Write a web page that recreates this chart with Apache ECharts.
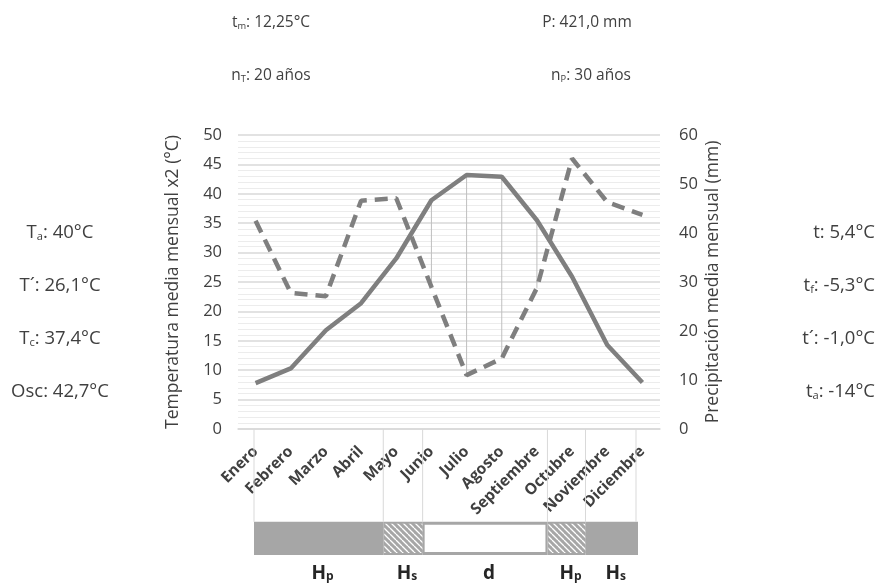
<!DOCTYPE html>
<html><head><meta charset="utf-8">
<script src="https://cdn.jsdelivr.net/npm/echarts@6/dist/echarts.min.js"></script>
<style>html,body{margin:0;padding:0;background:#fff}#c{width:883px;height:585px}</style>
</head><body><div id="c"></div>
<script>
// ---- data ----
const months = ['Enero','Febrero','Marzo','Abril','Mayo','Junio','Julio','Agosto','Septiembre','Octubre','Noviembre','Diciembre'];
const tempX2 = [7.8, 10.3, 16.8, 21.4, 29.0, 38.9, 43.2, 42.9, 35.5, 25.9, 14.3, 7.9];
const precip = [42.5, 27.8, 27.1, 46.6, 47.1, 29.0, 11.0, 14.4, 28.8, 55.2, 46.3, 43.7];
const aridMonths = ['Junio','Julio','Agosto','Septiembre'];
const tempAxis = {min: 0, max: 50, interval: 5};
const precipAxis = {min: 0, max: 60, interval: 10};
// bottom band: periods (in month units across the band)
const periodNames = ['H|p', 'H|s', 'd', 'H|p', 'H|s'];
const periodBounds = [0, 4.04, 5.27, 9.17, 10.36, 12];
const periodFill = ['solid', 'hatch', 'empty', 'hatch', 'solid'];
// stats texts
const statsTop = [['t','m',': 12,25°C'], ['P','',': 421,0 mm'], ['n','T',': 20 años'], ['n','P',': 30 años']];
const statsLeft = [['T','a',': 40°C'], ['T´','',': 26,1°C'], ['T','c',': 37,4°C'], ['Osc','',': 42,7°C']];
const statsRight = [['t','',': 5,4°C'], ['t','f',': -5,3°C'], ['t´','',': -1,0°C'], ['t','a',': -14°C']];

const FONT = '"Open Sans", sans-serif';
const GRAY = '#7f7f7f';
const TXT = '#404040';

// hatch pattern
const pc = document.createElement('canvas');
pc.width = 6; pc.height = 6;
const g = pc.getContext('2d');
g.fillStyle = '#a6a6a6'; g.fillRect(0,0,6,6);
g.strokeStyle = '#ffffff'; g.lineWidth = 1.3;
g.beginPath();
for (let k = -6; k <= 12; k += 6) { g.moveTo(k, 0); g.lineTo(k + 6, 6); }
g.stroke();

const chart = echarts.init(document.getElementById('c'), null, {renderer: 'canvas'});

function richText(parts, size) {
  return {
    text: '{a|' + parts[0] + '}' + (parts[1] ? '{s|' + parts[1] + '}' : '') + '{a|' + parts[2] + '}',
    rich: {
      a: {fontSize: size, fontFamily: FONT, fill: TXT, color: TXT, lineHeight: size + 6, verticalAlign: 'bottom'},
      s: {fontSize: size * 0.6, fontFamily: FONT, fill: TXT, color: TXT, lineHeight: size + 3, verticalAlign: 'bottom'}
    }
  };
}
const graphics = [];
const topPos = [[271, 20], [587, 20], [271, 73], [591, 73]];
statsTop.forEach((p, i) => graphics.push({type: 'text', x: topPos[i][0], y: topPos[i][1],
  style: Object.assign(richText(p, 15.5), {align: 'center', verticalAlign: 'middle'})}));
const sideY = [230, 283, 336, 389];
statsLeft.forEach((p, i) => graphics.push({type: 'text', x: 60, y: sideY[i],
  style: Object.assign(richText(p, 18.5), {align: 'center', verticalAlign: 'middle'})}));
statsRight.forEach((p, i) => graphics.push({type: 'text', x: 875, y: sideY[i],
  style: Object.assign(richText(p, 18.5), {align: 'right', verticalAlign: 'middle'})}));

const dropData = months.map((m, i) => aridMonths.includes(m)
  ? [i, tempX2[i], precip[i] * tempAxis.max / precipAxis.max] : null).filter(Boolean);

const bandData = periodNames.map((n, i) => [periodBounds[i], periodBounds[i + 1], i]);

chart.setOption({
  animation: false,
  textStyle: {fontFamily: FONT},
  graphic: graphics,
  grid: [
    {left: 238, right: 223, top: 135, bottom: 156},
    {left: 254, right: 245, top: 429, bottom: 30}
  ],
  xAxis: [
    {type: 'category', data: months, gridIndex: 0, boundaryGap: true,
     axisLine: {show: true, lineStyle: {color: '#d9d9d9', width: 1.5}},
     axisTick: {show: false},
     axisLabel: {interval: 0, rotate: 45, margin: 20, fontSize: 15.5, fontWeight: 'bold', color: TXT, fontFamily: FONT}},
    {type: 'value', gridIndex: 1, min: 0, max: 12, show: false}
  ],
  yAxis: [
    {type: 'value', gridIndex: 0, min: tempAxis.min, max: tempAxis.max, interval: tempAxis.interval,
     name: 'Temperatura media mensual x2 (°C)', nameLocation: 'middle', nameGap: 56,
     nameTextStyle: {fontSize: 17.5, color: TXT, fontFamily: FONT},
     axisLine: {show: false}, axisTick: {show: false},
     axisLabel: {fontSize: 16.5, color: TXT, margin: 16, fontFamily: FONT},
     splitLine: {lineStyle: {color: '#d9d9d9', width: 1.5}},
     minorTick: {show: false, splitNumber: 5},
     minorSplitLine: {show: true, lineStyle: {color: '#ececec', width: 1}}},
    {type: 'value', gridIndex: 0, min: precipAxis.min, max: precipAxis.max, interval: precipAxis.interval,
     position: 'right',
     name: 'Precipitación media mensual (mm)', nameLocation: 'middle', nameGap: 44,
     nameTextStyle: {fontSize: 17.5, color: TXT, fontFamily: FONT},
     axisLine: {show: false}, axisTick: {show: false},
     axisLabel: {fontSize: 16.5, color: TXT, margin: 19, fontFamily: FONT},
     splitLine: {show: false}},
    {type: 'value', gridIndex: 1, min: 0, max: 3.8, show: false}
  ],
  series: [
    {type: 'custom', xAxisIndex: 0, yAxisIndex: 0, z: 1, data: dropData,
     renderItem: (params, api) => {
       const a = api.coord([api.value(0), api.value(1)]);
       const b = api.coord([api.value(0), api.value(2)]);
       return {type: 'line', shape: {x1: a[0], y1: a[1], x2: b[0], y2: b[1]},
               style: {stroke: '#bfbfbf', lineWidth: 1}};
     }},
    {type: 'line', name: 'Temperatura', data: tempX2, xAxisIndex: 0, yAxisIndex: 0, z: 3,
     symbol: 'none', lineStyle: {color: GRAY, width: 4.5}},
    {type: 'line', name: 'Precipitación', data: precip, xAxisIndex: 0, yAxisIndex: 1, z: 3,
     symbol: 'none', lineStyle: {color: GRAY, width: 4.5, type: [13, 8], cap: 'butt'}},
    {type: 'custom', xAxisIndex: 1, yAxisIndex: 2, z: 2, clip: false, data: bandData,
     renderItem: (params, api) => {
       const i = api.value(2);
       const p0 = api.coord([api.value(0), 1]);
       const p1 = api.coord([api.value(1), 0]);
       const top = api.coord([api.value(0), 3.8]);
       const kind = periodFill[i];
       const children = [];
       children.push({type: 'rect', shape: {x: p0[0], y: p0[1], width: p1[0] - p0[0], height: p1[1] - p0[1]},
         style: {fill: '#a6a6a6'}});
       if (kind === 'hatch') {
         children.push({type: 'rect', shape: {x: p0[0] + 1, y: p0[1] + 2, width: p1[0] - p0[0] - 1, height: p1[1] - p0[1] - 4},
           style: {fill: {image: pc, repeat: 'repeat'}}});
       } else if (kind === 'empty') {
         children.push({type: 'rect', shape: {x: p0[0] + 2, y: p0[1] + 3, width: p1[0] - p0[0] - 4, height: p1[1] - p0[1] - 6},
           style: {fill: '#ffffff'}});
       }
       children.push({type: 'line', shape: {x1: p0[0], y1: top[1], x2: p0[0], y2: p0[1]},
         style: {stroke: '#d9d9d9', lineWidth: 1}});
       if (i === periodNames.length - 1) {
         children.push({type: 'line', shape: {x1: p1[0] - 2, y1: top[1], x2: p1[0] - 2, y2: p0[1]},
           style: {stroke: '#d9d9d9', lineWidth: 1}});
       }
       const nm = periodNames[i].split('|');
       children.push({type: 'text', x: (p0[0] + p1[0]) / 2 + 4, y: p1[1] + 16,
         style: {text: '{b|' + nm[0] + '}' + (nm[1] ? '{s|' + nm[1] + '}' : ''),
           align: 'center', verticalAlign: 'middle',
           rich: {b: {fontSize: 19, fontWeight: 'bold', fontFamily: FONT, color: '#262626', fill: '#262626', lineHeight: 24, verticalAlign: 'bottom'},
                  s: {fontSize: 12, fontWeight: 'bold', fontFamily: FONT, color: '#262626', fill: '#262626', lineHeight: 20, verticalAlign: 'bottom'}}}});
       return {type: 'group', children};
     }}
  ]
});
</script></body></html>
